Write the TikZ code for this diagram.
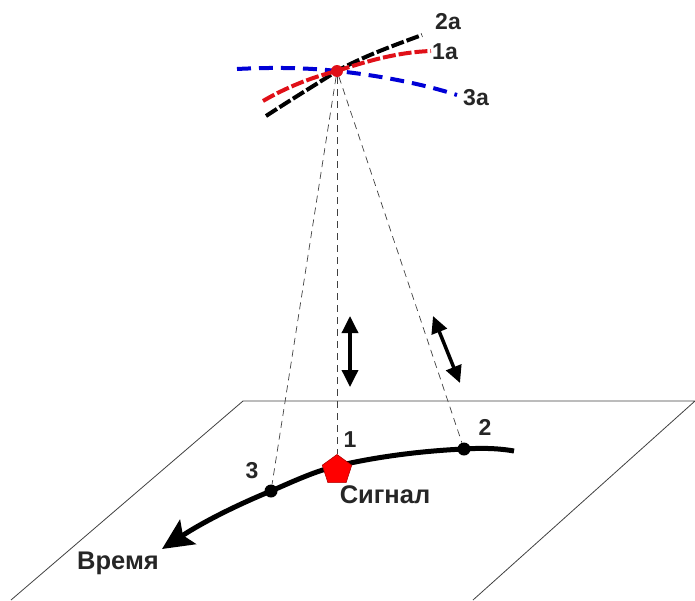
\documentclass[tikz,border=0pt]{standalone}
\usepackage{fontspec}
\setmainfont{Liberation Sans}
\usepackage{xcolor}
\usetikzlibrary{arrows.meta,shapes.geometric}
\definecolor{labelgray}{RGB}{38,38,38}
\definecolor{curvered}{RGB}{224,16,24}
\definecolor{curveblue}{RGB}{0,0,214}
\tikzset{
  labeltext/.style={inner sep=0pt,text=labelgray,font=\fontsize{23}{23}\selectfont\bfseries},
  wordtext/.style={labeltext,font=\fontsize{25.5}{25.5}\selectfont\bfseries},
  dotnode/.style={circle,fill=black,inner sep=0pt,minimum size=13pt},
  rayline/.style={line width=0.7pt,draw=black!75,dash pattern=on 7pt off 5pt},
  arcline/.style={line width=4pt,dash pattern=on 13pt off 3pt},
  movearrow/.style={{Triangle[length=17pt,width=16pt]}-{Triangle[length=17pt,width=16pt]},line width=3.5pt,draw=black}
}
\begin{document}
\begin{tikzpicture}[x=1pt,y=-1pt]
            \useasboundingbox (0,0) rectangle (695,600);

            % plane
            \coordinate (planeA) at (243,401);
            \coordinate (planeB) at (695,401);
            \coordinate (planeC) at (473,600);
            \coordinate (planeD) at (11,600);
            \draw[line width=0.8pt,black!75] (planeD) -- (planeA) -- (planeB) -- (planeC);

            % track
            \coordinate (trackEnd) at (514,451);
            \coordinate (trackTwo) at (464,449);
            \coordinate (trackMid) at (337,466);
            \coordinate (trackThree) at (271,491);
            \coordinate (trackTip) at (162,549);
            \draw[line width=5pt,black,-{Stealth[length=31pt,width=29pt,inset=6pt]}]
                (trackEnd) .. controls (497,448) and (480,448) .. (trackTwo)
                .. controls (420,451) and (375,457) .. (trackMid)
                .. controls (315,471) and (292,482) .. (trackThree)
                .. controls (232,507) and (200,524) .. (trackTip);

            \node[dotnode] (dotTwo) at (trackTwo) {};
            \node[dotnode] (dotThree) at (trackThree) {};
            \node[regular polygon,regular polygon sides=5,minimum size=31pt,inner sep=0pt,
                  fill=red,draw=red!70!black,line width=0.6pt] (signal) at (337,470) {};

            % curves at the top
            \coordinate (crossTop) at (337,71);
            \coordinate (blackA) at (266,116);
            \coordinate (blackB) at (422,35);
            \coordinate (redA) at (263,101);
            \coordinate (redB) at (431,51);
            \coordinate (blueA) at (237,69);
            \coordinate (blueB) at (457,95);
            \draw[arcline,black] (blackA) .. controls (292,99) and (315,85) .. (crossTop)
                .. controls (362,57) and (392,46) .. (blackB);
            \draw[arcline,curveblue,dash pattern=on 14pt off 8pt] (blueA) .. controls (275,67) and (310,68) .. (crossTop)
                .. controls (375,75) and (420,83) .. (blueB);
            \draw[arcline,curvered] (redA) .. controls (285,88) and (312,77) .. (crossTop)
                .. controls (370,60) and (400,52) .. (redB);
            \node[dotnode,minimum size=12pt,fill=curvered] (dotTop) at (crossTop) {};

            \draw[rayline] (dotTop) -- (dotThree);
            \draw[rayline] (dotTop) -- (signal);
            \draw[rayline] (dotTop) -- (dotTwo);

            % arrows between
            \coordinate (arrowAup) at (350,316);
            \coordinate (arrowAdown) at (350,387);
            \coordinate (arrowBup) at (433,316);
            \coordinate (arrowBdown) at (460,383);
            \draw[movearrow] (arrowAup) -- (arrowAdown);
            \draw[movearrow] (arrowBup) -- (arrowBdown);

            % labels
            \node[labeltext] (labelTwoA) at (448,22) {2a};
            \node[labeltext] (labelOneA) at (445,52) {1a};
            \node[labeltext] (labelThreeA) at (476,98) {3a};
            \node[labeltext] (labelOne) at (350,440) {1};
            \node[labeltext] (labelTwo) at (485,427) {2};
            \node[labeltext] (labelThree) at (252,471) {3};
            \node[wordtext] (labelSignal) at (385,495) {Сигнал};
            \node[wordtext] (labelTime) at (118,563) {Время};
\end{tikzpicture}
\end{document}
